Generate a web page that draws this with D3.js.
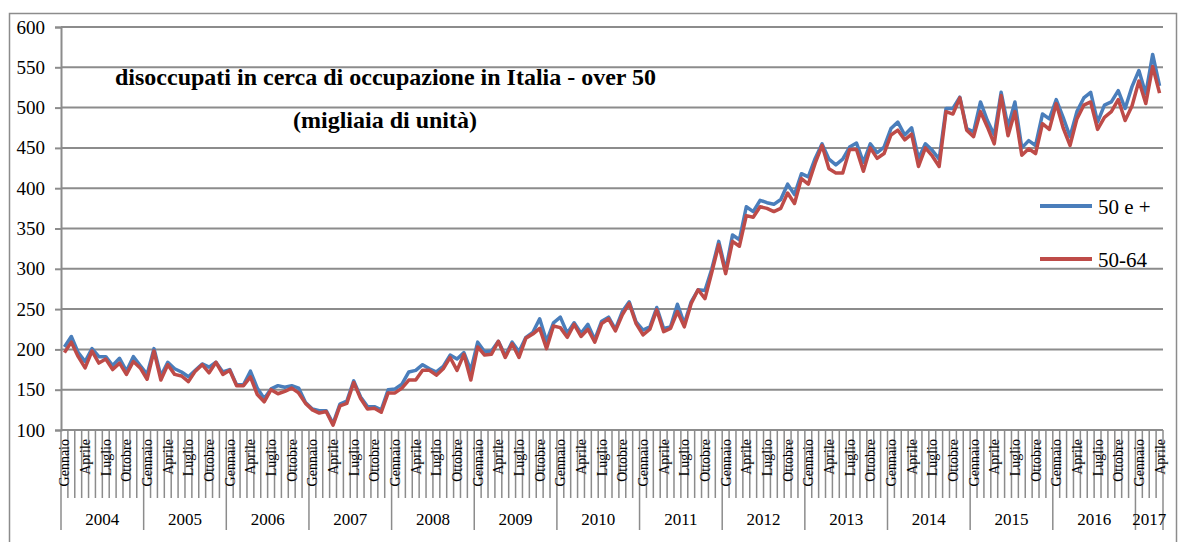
<!DOCTYPE html>
<html>
<head>
<meta charset="utf-8">
<script src="https://cdn.jsdelivr.net/npm/d3@7"></script>
<style>
  html, body { margin: 0; padding: 0; background: #fff; }
  svg { display: block; }
  text { font-family: "Liberation Serif", "Times New Roman", serif; fill: #000; }
</style>
</head>
<body>
<svg id="chart" width="1204" height="542"></svg>
<script>
// ---- data ----
const years = ["2004","2005","2006","2007","2008","2009","2010","2011","2012","2013","2014","2015","2016","2017"];
const monthNames = ["Gennaio","Febbraio","Marzo","Aprile","Maggio","Giugno","Luglio","Agosto","Settembre","Ottobre","Novembre","Dicembre"];
const yTicks = [100,150,200,250,300,350,400,450,500,550,600];
const seriesNames = ["50 e +", "50-64"];

const over50 = [
  203,216,196,185,201,191,191,180,189,173,191,180,
  169,201,167,184,176,172,166,174,182,178,184,172,
  175,156,156,173,152,139,151,155,153,155,152,134,
  126,124,124,108,132,136,161,141,129,129,125,150,
  151,157,172,174,181,176,172,179,193,188,196,174,
  209,197,198,210,192,209,197,215,221,238,210,233,
  240,220,233,220,231,212,235,240,225,247,259,234,
  224,228,252,226,228,256,232,259,274,273,300,334,
  298,342,336,377,371,385,382,380,386,405,392,418,
  414,437,455,436,429,436,451,456,432,455,444,451,
  474,482,466,475,437,455,447,436,499,499,513,474,
  470,507,484,466,519,476,507,450,459,453,492,486,
  510,488,464,495,512,519,482,503,507,521,499,526,
  546,517,566,527
];
const age50_64 = [
  196,209,191,177,198,183,188,175,183,169,185,177,
  163,198,162,181,169,167,160,173,181,171,184,169,
  174,155,155,166,144,135,150,145,148,152,146,133,
  125,121,123,106,130,133,159,139,126,127,122,146,
  146,152,162,162,174,174,168,176,190,174,194,162,
  203,193,194,210,190,207,190,214,219,226,201,229,
  227,215,231,216,225,209,232,238,223,243,257,232,
  218,225,249,222,226,247,228,257,274,263,296,330,
  294,334,328,366,364,377,375,371,375,394,381,412,
  405,431,453,424,419,419,448,448,421,450,437,443,
  466,472,460,467,427,450,440,427,495,492,512,472,
  464,495,476,455,515,465,495,441,449,443,480,473,
  505,475,453,486,503,507,473,488,495,510,484,502,
  533,505,551,518
];

// ---- layout ----
const svg = d3.select("#chart");
const plotL = 61, plotR = 1163, plotT = 27, plotB = 430;
const gridColor = "#8c8c8c";
const colors = ["#4a7ebb", "#be4b48"];

const n = over50.length;
const idx = d3.range(n);
const x = d3.scaleBand().domain(idx).range([plotL, plotR]).padding(0);
const bw = x.bandwidth();
const y = d3.scaleLinear().domain([100, 600]).range([plotB, plotT]);

// outer frame
svg.append("rect")
  .attr("x", 9.5).attr("y", 13.5)
  .attr("width", 1167).attr("height", 540)
  .attr("fill", "none").attr("stroke", gridColor).attr("stroke-width", 1.5);

// y axis with gridlines
const yAxis = d3.axisLeft(y).tickValues(yTicks).tickSize(6).tickPadding(10)
  .tickFormat(d3.format("d"));
const gy = svg.append("g").attr("transform", `translate(${plotL},0)`).call(yAxis);
gy.select(".domain").attr("stroke", gridColor).attr("stroke-width", 2);
gy.selectAll(".tick line").attr("stroke", gridColor).attr("stroke-width", 2);
gy.selectAll(".tick text")
  .style("font-family", '"Liberation Serif", serif')
  .style("font-size", "19px").attr("fill", "#000");

svg.append("g").selectAll("line").data(yTicks.filter(d => d > 100)).join("line")
  .attr("x1", plotL).attr("x2", plotR)
  .attr("y1", d => y(d)).attr("y2", d => y(d))
  .attr("stroke", gridColor).attr("stroke-width", 2);

// x axis: month ticks and labels
const gx = svg.append("g");
gx.append("line").attr("x1", plotL).attr("x2", plotR)
  .attr("y1", plotB).attr("y2", plotB)
  .attr("stroke", gridColor).attr("stroke-width", 2);

const bounds = d3.range(n + 1);
gx.selectAll("line.mt").data(bounds).join("line").attr("class", "mt")
  .attr("x1", d => plotL + d * bw).attr("x2", d => plotL + d * bw)
  .attr("y1", plotB).attr("y2", d => (d % 12 === 0 || d === n) ? 530 : 498)
  .attr("stroke", gridColor).attr("stroke-width", 1.5);

gx.selectAll("text.ml").data(idx.filter(i => i % 3 === 0)).join("text").attr("class", "ml")
  .attr("transform", i => `translate(${x(i) + bw / 2 + 5},${plotB + 9}) rotate(-90)`)
  .attr("text-anchor", "end")
  .style("font-size", "14px")
  .text(i => monthNames[i % 12]);

// year labels
gx.selectAll("text.yl").data(years).join("text").attr("class", "yl")
  .attr("x", (d, k) => {
    const s = k * 12, e = Math.min(n, s + 12);
    return plotL + (s + e) / 2 * bw;
  })
  .attr("y", 525)
  .attr("text-anchor", "middle")
  .style("font-size", "17px")
  .text(d => d);

// lines
const line = d3.line().x((d, i) => x(i) + bw / 2).y(d => y(d));
[over50, age50_64].forEach((s, k) => {
  svg.append("path").datum(s)
    .attr("d", line)
    .attr("fill", "none")
    .attr("stroke", colors[k])
    .attr("stroke-width", 3.5)
    .attr("stroke-linejoin", "round");
});

// titles
svg.append("text").attr("x", 115).attr("y", 85)
  .style("font-size", "24px").style("font-weight", "bold")
  .text("disoccupati in cerca di occupazione in Italia - over 50");
svg.append("text").attr("x", 293).attr("y", 128)
  .style("font-size", "24px").style("font-weight", "bold")
  .text("(migliaia di unità)");

// legend
const legY = [206, 259];
seriesNames.forEach((name, k) => {
  svg.append("line").attr("x1", 1040).attr("x2", 1092)
    .attr("y1", legY[k]).attr("y2", legY[k])
    .attr("stroke", colors[k]).attr("stroke-width", 4);
  svg.append("text").attr("x", 1098).attr("y", legY[k] + 8)
    .style("font-size", "21px")
    .text(name);
});
</script>
</body>
</html>
